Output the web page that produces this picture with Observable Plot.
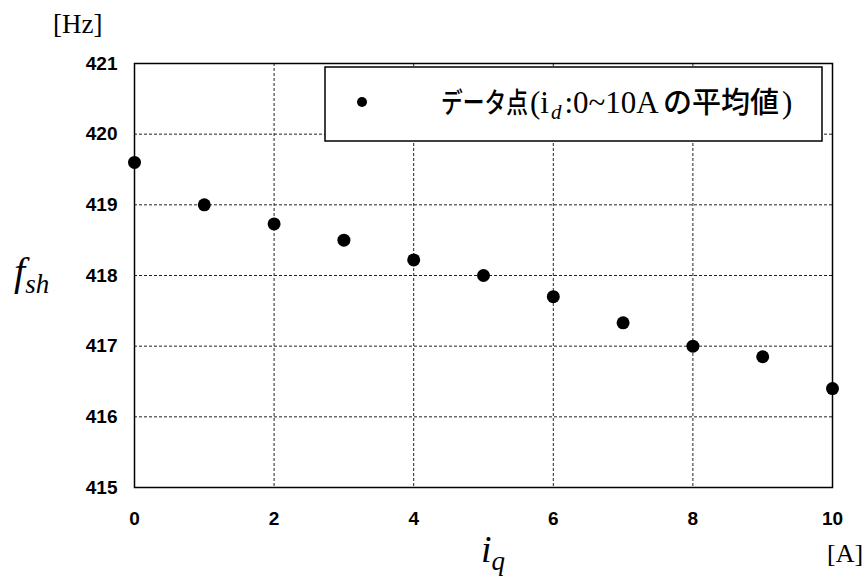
<!DOCTYPE html>
<html><head><meta charset="utf-8">
<script src="https://cdn.jsdelivr.net/npm/d3@7"></script>
<script src="https://cdn.jsdelivr.net/npm/@observablehq/plot@0.6"></script>
<style>body{margin:0;background:#fff}</style>
</head><body><div id="chart"></div>
<script>
const iq = [0, 1, 2, 3, 4, 5, 6, 7, 8, 9, 10];
const fsh = [419.6, 419.0, 418.73, 418.5, 418.22, 418.0, 417.7, 417.33, 417.0, 416.85, 416.4];
const xTicks = [0, 2, 4, 6, 8, 10];
const yTicks = [415, 416, 417, 418, 419, 420, 421];
const yUnit = "[Hz]";
const xUnit = "[A]";

const data = iq.map((x, i) => ({x, y: fsh[i]}));
const grid = {stroke: "#222", strokeOpacity: 1, strokeDasharray: "3,2", strokeWidth: 1};

const chart = Plot.plot({
  width: 868, height: 577,
  marginLeft: 134, marginRight: 36, marginTop: 63, marginBottom: 90,
  style: {background: "#fff", fontFamily: "'Liberation Sans', Arial, sans-serif", fontSize: "19px", fontWeight: "bold", color: "#000"},
  x: {domain: [0, 10]},
  y: {domain: [415, 421]},
  marks: [
    Plot.gridX(xTicks.slice(1, -1), grid),
    Plot.gridY(yTicks.slice(1, -1), grid),
    Plot.frame({stroke: "#000", strokeWidth: 1.5}),
    Plot.axisX(xTicks, {tickSize: 0, tickPadding: 24, label: null, tickFormat: d => String(d)}),
    Plot.axisY(yTicks, {tickSize: 0, tickPadding: 17, label: null, tickFormat: d => String(d)}),
    Plot.dot(data, {x: "x", y: "y", r: 6.5, fill: "#000", stroke: "none"})
  ]
});
document.getElementById("chart").appendChild(chart);

const svg = d3.select(chart);
const serif = "'Liberation Serif', 'Times New Roman', serif";
const gothic = "'Noto Sans CJK JP', sans-serif";
const extra = svg.append("g").attr("text-anchor", "start").attr("font-weight", "normal");

// unit labels
extra.append("text").attr("x", 53).attr("y", 33).attr("font-family", serif).attr("font-size", 27).text(yUnit);
extra.append("text").attr("x", 827).attr("y", 562).attr("font-family", serif).attr("font-size", 26).text(xUnit);

// y axis label f_sh
const fl = extra.append("text").attr("x", 14).attr("y", 285).attr("font-family", serif).attr("font-style", "italic").attr("font-size", 40);
fl.append("tspan").text("f");
fl.append("tspan").attr("font-size", 27).attr("dy", 8).text("sh");

// x axis label i_q
const il = extra.append("text").attr("x", 481).attr("y", 562).attr("font-family", serif).attr("font-style", "italic").attr("font-size", 38);
il.append("tspan").text("i");
il.append("tspan").attr("font-size", 27).attr("dy", 8).text("q");

// legend
const lg = extra.append("g");
lg.append("rect").attr("x", 325).attr("y", 67).attr("width", 497).attr("height", 74).attr("fill", "#fff").attr("stroke", "#000").attr("stroke-width", 1.5);
lg.append("circle").attr("cx", 362).attr("cy", 102).attr("r", 5).attr("fill", "#000");
lg.append("text").attr("transform", "translate(441,113) scale(0.777,1)")
  .attr("font-family", gothic).attr("font-weight", 500).attr("font-size", 28).text("データ点");
const st = lg.append("text").attr("x", 530).attr("y", 113).attr("font-family", serif).attr("font-size", 31);
st.append("tspan").text("(i");
st.append("tspan").attr("font-style", "italic").attr("font-size", 21).attr("dx", 2).attr("dy", 6).text("d");
st.append("tspan").attr("dx", 3).attr("dy", -6).text(":0~10A");
lg.append("text").attr("x", 663).attr("y", 113).attr("font-family", gothic).attr("font-weight", 500).attr("font-size", 29).text("の平均値");
lg.append("text").attr("x", 782).attr("y", 113).attr("font-family", serif).attr("font-size", 31).text(")");
</script>
</body></html>
